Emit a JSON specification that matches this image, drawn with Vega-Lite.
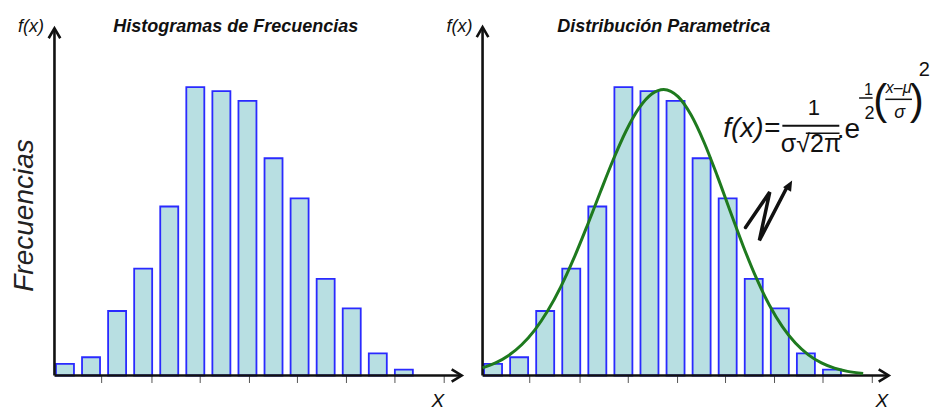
{
  "$schema": "https://vega.github.io/schema/vega-lite/v6.json",
  "width": 938,
  "height": 411,
  "padding": 0,
  "autosize": {"type": "none"},
  "background": "white",
  "config": {"view": {"stroke": null}},
  "datasets": {
    "hist": [
      {"bin": 0, "frecuencia": 2.0},
      {"bin": 1, "frecuencia": 3.16},
      {"bin": 2, "frecuencia": 11.18},
      {"bin": 3, "frecuencia": 18.52},
      {"bin": 4, "frecuencia": 29.3},
      {"bin": 5, "frecuencia": 50.0},
      {"bin": 6, "frecuencia": 49.3},
      {"bin": 7, "frecuencia": 47.6},
      {"bin": 8, "frecuencia": 37.66},
      {"bin": 9, "frecuencia": 30.7},
      {"bin": 10, "frecuencia": 16.75},
      {"bin": 11, "frecuencia": 11.65},
      {"bin": 12, "frecuencia": 3.85},
      {"bin": 13, "frecuencia": 1.01}
    ],
    "curve": [
      {"x": 0, "f": 1.32}, {"x": 0.5, "f": 2.18}, {"x": 1, "f": 3.47}, {"x": 1.5, "f": 5.33},
      {"x": 2, "f": 7.87}, {"x": 2.5, "f": 11.21}, {"x": 3, "f": 15.37}, {"x": 3.5, "f": 20.29},
      {"x": 4, "f": 25.8}, {"x": 4.5, "f": 31.6}, {"x": 5, "f": 37.28}, {"x": 5.5, "f": 42.35},
      {"x": 6, "f": 46.35}, {"x": 6.5, "f": 48.85}, {"x": 6.95, "f": 49.6}, {"x": 7.5, "f": 48.34},
      {"x": 8, "f": 45.15}, {"x": 8.5, "f": 40.4}, {"x": 9, "f": 34.65}, {"x": 9.5, "f": 28.47},
      {"x": 10, "f": 22.42}, {"x": 10.5, "f": 16.91}, {"x": 11, "f": 12.23}, {"x": 11.5, "f": 8.47},
      {"x": 12, "f": 5.62}, {"x": 12.5, "f": 3.58}, {"x": 13, "f": 2.18}, {"x": 13.5, "f": 1.27},
      {"x": 14, "f": 0.71}, {"x": 14.6, "f": 0.34}
    ],
    "ticks": [{"t": 1.81}, {"t": 3.74}, {"t": 5.59}, {"t": 7.48}, {"t": 9.32}, {"t": 11.2}, {"t": 13.06}, {"t": 14.95}],
    "zigzag": [
      {"step": 1, "x": 10.087, "f": 25.66},
      {"step": 2, "x": 11.017, "f": 31.81},
      {"step": 3, "x": 10.619, "f": 23.41},
      {"step": 4, "x": 11.662, "f": 32.51}
    ]
  },
  "layer": [
    {
      "layer": [
        {
          "data": {"name": "hist"},
          "mark": {"type": "bar", "width": 18, "xOffset": 10.5, "fill": "#b8dfe2", "stroke": "#2a2aff", "strokeWidth": 1.8},
          "encoding": {
            "x": {"field": "bin", "type": "quantitative", "scale": {"domain": [-1.8975, 33.7], "nice": false, "zero": false}, "axis": null},
            "y": {"field": "frecuencia", "type": "quantitative", "stack": null, "scale": {"domain": [-6.155, 65.1], "nice": false, "zero": false}, "axis": null},
            "y2": {"datum": 0}
          }
        },
        {
          "data": {"name": "ticks"},
          "mark": {"type": "rule", "color": "#555", "strokeWidth": 1},
          "encoding": {
            "x": {"field": "t", "type": "quantitative", "scale": {"domain": [-1.8975, 33.7], "nice": false, "zero": false}, "axis": null},
            "y": {"datum": 0, "scale": {"domain": [-6.155, 65.1], "nice": false, "zero": false}, "axis": null},
            "y2": {"datum": -1.3}
          }
        },
        {
          "data": {"values": [{}]},
          "mark": {"type": "rule", "color": "#111", "strokeWidth": 2.6},
          "encoding": {
            "x": {"datum": 0, "scale": {"domain": [-1.8975, 33.7], "nice": false, "zero": false}, "axis": null},
            "x2": {"datum": 15.6},
            "y": {"datum": 0, "scale": {"domain": [-6.155, 65.1], "nice": false, "zero": false}, "axis": null}
          }
        },
        {
          "data": {"values": [{}]},
          "mark": {"type": "rule", "color": "#111", "strokeWidth": 2.6},
          "encoding": {
            "x": {"datum": 0, "scale": {"domain": [-1.8975, 33.7], "nice": false, "zero": false}, "axis": null},
            "y": {"datum": 0, "scale": {"domain": [-6.155, 65.1], "nice": false, "zero": false}, "axis": null},
            "y2": {"datum": 60.2}
          }
        },
        {
          "data": {"values": [{}]},
          "mark": {"type": "point", "shape": "M -1 -0.62 L 0 0 L -1 0.62", "size": 400, "filled": false, "stroke": "#111", "strokeWidth": 2.6, "opacity": 1},
          "encoding": {
            "x": {"datum": 15.62, "scale": {"domain": [-1.8975, 33.7], "nice": false, "zero": false}, "axis": null},
            "y": {"datum": 0, "scale": {"domain": [-6.155, 65.1], "nice": false, "zero": false}, "axis": null}
          }
        },
        {
          "data": {"values": [{}]},
          "mark": {"type": "point", "shape": "M -0.58 1 L 0 0 L 0.58 1", "size": 400, "filled": false, "stroke": "#111", "strokeWidth": 2.6, "opacity": 1},
          "encoding": {
            "x": {"datum": 0, "scale": {"domain": [-1.8975, 33.7], "nice": false, "zero": false}, "axis": null},
            "y": {"datum": 60.2, "scale": {"domain": [-6.155, 65.1], "nice": false, "zero": false}, "axis": null}
          }
        },
        {
          "data": {"values": [{"label": "Histogramas de Frecuencias"}]},
          "mark": {"type": "text", "font": "Liberation Sans, sans-serif", "fontSize": 18, "fontStyle": "italic", "fontWeight": "bold", "align": "center", "baseline": "alphabetic", "color": "#111"},
          "encoding": {
            "x": {"datum": 6.956, "scale": {"domain": [-1.8975, 33.7], "nice": false, "zero": false}, "axis": null},
            "y": {"datum": 59.61, "scale": {"domain": [-6.155, 65.1], "nice": false, "zero": false}, "axis": null},
            "text": {"field": "label"}
          }
        },
        {
          "data": {"values": [{"label": "f(x)"}]},
          "mark": {"type": "text", "font": "Liberation Sans, sans-serif", "fontSize": 18, "fontStyle": "italic", "align": "center", "baseline": "alphabetic", "color": "#111"},
          "encoding": {
            "x": {"datum": -0.9, "scale": {"domain": [-1.8975, 33.7], "nice": false, "zero": false}, "axis": null},
            "y": {"datum": 59.61, "scale": {"domain": [-6.155, 65.1], "nice": false, "zero": false}, "axis": null},
            "text": {"field": "label"}
          }
        },
        {
          "data": {"values": [{"label": "Frecuencias"}]},
          "mark": {"type": "text", "font": "Liberation Sans, sans-serif", "fontSize": 28, "fontStyle": "italic", "angle": 270, "align": "center", "baseline": "alphabetic", "color": "#222"},
          "encoding": {
            "x": {"datum": -0.84, "scale": {"domain": [-1.8975, 33.7], "nice": false, "zero": false}, "axis": null},
            "y": {"datum": 27.74, "scale": {"domain": [-6.155, 65.1], "nice": false, "zero": false}, "axis": null},
            "text": {"field": "label"}
          }
        },
        {
          "data": {"values": [{"label": "X"}]},
          "mark": {"type": "text", "font": "Liberation Sans, sans-serif", "fontSize": 19, "fontStyle": "italic", "align": "center", "baseline": "alphabetic", "color": "#111"},
          "encoding": {
            "x": {"datum": 14.706, "scale": {"domain": [-1.8975, 33.7], "nice": false, "zero": false}, "axis": null},
            "y": {"datum": -5.41, "scale": {"domain": [-6.155, 65.1], "nice": false, "zero": false}, "axis": null},
            "text": {"field": "label"}
          }
        }
      ]
    },
    {
      "layer": [
        {
          "data": {"name": "hist"},
          "mark": {"type": "bar", "width": 18, "xOffset": 10.5, "fill": "#b8dfe2", "stroke": "#2a2aff", "strokeWidth": 1.8},
          "encoding": {
            "x": {"field": "bin", "type": "quantitative", "scale": {"domain": [-18.319, 17.279], "nice": false, "zero": false}, "axis": null},
            "y": {"field": "frecuencia", "type": "quantitative", "stack": null, "scale": {"domain": [-6.155, 65.1], "nice": false, "zero": false}, "axis": null},
            "y2": {"datum": 0}
          }
        },
        {
          "data": {"name": "ticks"},
          "mark": {"type": "rule", "color": "#555", "strokeWidth": 1},
          "encoding": {
            "x": {"field": "t", "type": "quantitative", "scale": {"domain": [-18.319, 17.279], "nice": false, "zero": false}, "axis": null},
            "y": {"datum": 0, "scale": {"domain": [-6.155, 65.1], "nice": false, "zero": false}, "axis": null},
            "y2": {"datum": -1.3}
          }
        },
        {
          "data": {"values": [{}]},
          "mark": {"type": "rule", "color": "#111", "strokeWidth": 2.6},
          "encoding": {
            "x": {"datum": 0, "scale": {"domain": [-18.319, 17.279], "nice": false, "zero": false}, "axis": null},
            "x2": {"datum": 15.58},
            "y": {"datum": 0, "scale": {"domain": [-6.155, 65.1], "nice": false, "zero": false}, "axis": null}
          }
        },
        {
          "data": {"values": [{}]},
          "mark": {"type": "rule", "color": "#111", "strokeWidth": 2.6},
          "encoding": {
            "x": {"datum": 0, "scale": {"domain": [-18.319, 17.279], "nice": false, "zero": false}, "axis": null},
            "y": {"datum": 0, "scale": {"domain": [-6.155, 65.1], "nice": false, "zero": false}, "axis": null},
            "y2": {"datum": 60.4}
          }
        },
        {
          "data": {"values": [{}]},
          "mark": {"type": "point", "shape": "M -1 -0.62 L 0 0 L -1 0.62", "size": 400, "filled": false, "stroke": "#111", "strokeWidth": 2.6, "opacity": 1},
          "encoding": {
            "x": {"datum": 15.58, "scale": {"domain": [-18.319, 17.279], "nice": false, "zero": false}, "axis": null},
            "y": {"datum": 0, "scale": {"domain": [-6.155, 65.1], "nice": false, "zero": false}, "axis": null}
          }
        },
        {
          "data": {"values": [{}]},
          "mark": {"type": "point", "shape": "M -0.58 1 L 0 0 L 0.58 1", "size": 400, "filled": false, "stroke": "#111", "strokeWidth": 2.6, "opacity": 1},
          "encoding": {
            "x": {"datum": 0, "scale": {"domain": [-18.319, 17.279], "nice": false, "zero": false}, "axis": null},
            "y": {"datum": 60.4, "scale": {"domain": [-6.155, 65.1], "nice": false, "zero": false}, "axis": null}
          }
        },
        {
          "data": {"name": "curve"},
          "mark": {"type": "line", "color": "#1e7a1e", "strokeWidth": 3, "interpolate": "monotone"},
          "encoding": {
            "x": {"field": "x", "type": "quantitative", "scale": {"domain": [-18.319, 17.279], "nice": false, "zero": false}, "axis": null},
            "y": {"field": "f", "type": "quantitative", "scale": {"domain": [-6.155, 65.1], "nice": false, "zero": false}, "axis": null}
          }
        },
        {
          "data": {"name": "zigzag"},
          "mark": {"type": "line", "color": "#111", "strokeWidth": 3.5, "strokeCap": "round", "strokeJoin": "miter"},
          "encoding": {
            "x": {"field": "x", "type": "quantitative", "scale": {"domain": [-18.319, 17.279], "nice": false, "zero": false}, "axis": null},
            "y": {"field": "f", "type": "quantitative", "scale": {"domain": [-6.155, 65.1], "nice": false, "zero": false}, "axis": null},
            "order": {"field": "step", "type": "quantitative"}
          }
        },
        {
          "data": {"values": [{}]},
          "mark": {"type": "point", "shape": "M 0 -1 L 0.75 0.7 L -0.75 0.7 Z", "size": 150, "filled": true, "fill": "#111", "strokeWidth": 0, "opacity": 1, "angle": 29},
          "encoding": {
            "x": {"datum": 11.761, "scale": {"domain": [-18.319, 17.279], "nice": false, "zero": false}, "axis": null},
            "y": {"datum": 32.89, "scale": {"domain": [-6.155, 65.1], "nice": false, "zero": false}, "axis": null}
          }
        },
        {
          "data": {"values": [{"label": "Distribución Parametrica"}]},
          "mark": {"type": "text", "font": "Liberation Sans, sans-serif", "fontSize": 18, "fontStyle": "italic", "fontWeight": "bold", "align": "center", "baseline": "alphabetic", "color": "#111"},
          "encoding": {
            "x": {"datum": 6.949, "scale": {"domain": [-18.319, 17.279], "nice": false, "zero": false}, "axis": null},
            "y": {"datum": 59.61, "scale": {"domain": [-6.155, 65.1], "nice": false, "zero": false}, "axis": null},
            "text": {"field": "label"}
          }
        },
        {
          "data": {"values": [{"label": "f(x)"}]},
          "mark": {"type": "text", "font": "Liberation Sans, sans-serif", "fontSize": 18, "fontStyle": "italic", "align": "center", "baseline": "alphabetic", "color": "#111"},
          "encoding": {
            "x": {"datum": -0.88, "scale": {"domain": [-18.319, 17.279], "nice": false, "zero": false}, "axis": null},
            "y": {"datum": 59.61, "scale": {"domain": [-6.155, 65.1], "nice": false, "zero": false}, "axis": null},
            "text": {"field": "label"}
          }
        },
        {
          "data": {"values": [{"label": "X"}]},
          "mark": {"type": "text", "font": "Liberation Sans, sans-serif", "fontSize": 19, "fontStyle": "italic", "align": "center", "baseline": "alphabetic", "color": "#111"},
          "encoding": {
            "x": {"datum": 15.317, "scale": {"domain": [-18.319, 17.279], "nice": false, "zero": false}, "axis": null},
            "y": {"datum": -5.41, "scale": {"domain": [-6.155, 65.1], "nice": false, "zero": false}, "axis": null},
            "text": {"field": "label"}
          }
        },
        {
          "data": {"values": [{"label": "f(x)="}]},
          "mark": {"type": "text", "font": "Liberation Sans, sans-serif", "fontSize": 28, "fontStyle": "italic", "align": "left", "baseline": "alphabetic", "color": "#111"},
          "encoding": {
            "x": {"datum": 9.233, "scale": {"domain": [-18.319, 17.279], "nice": false, "zero": false}, "axis": null},
            "y": {"datum": 41.3, "scale": {"domain": [-6.155, 65.1], "nice": false, "zero": false}, "axis": null},
            "text": {"field": "label"}
          }
        },
        {
          "data": {"values": [{"label": "1"}]},
          "mark": {"type": "text", "font": "Liberation Sans, sans-serif", "fontSize": 22, "align": "center", "baseline": "alphabetic", "color": "#111"},
          "encoding": {
            "x": {"datum": 12.706, "scale": {"domain": [-18.319, 17.279], "nice": false, "zero": false}, "axis": null},
            "y": {"datum": 45.16, "scale": {"domain": [-6.155, 65.1], "nice": false, "zero": false}, "axis": null},
            "text": {"field": "label"}
          }
        },
        {
          "data": {"values": [{}]},
          "mark": {"type": "rule", "color": "#111", "strokeWidth": 2},
          "encoding": {
            "x": {"datum": 11.5, "scale": {"domain": [-18.319, 17.279], "nice": false, "zero": false}, "axis": null},
            "x2": {"datum": 13.685},
            "y": {"datum": 43.31, "scale": {"domain": [-6.155, 65.1], "nice": false, "zero": false}, "axis": null}
          }
        },
        {
          "data": {"values": [{"label": "σ√2π"}]},
          "mark": {"type": "text", "font": "Liberation Sans, sans-serif", "fontSize": 25, "align": "center", "baseline": "alphabetic", "color": "#111"},
          "encoding": {
            "x": {"datum": 12.6, "scale": {"domain": [-18.319, 17.279], "nice": false, "zero": false}, "axis": null},
            "y": {"datum": 38.8, "scale": {"domain": [-6.155, 65.1], "nice": false, "zero": false}, "axis": null},
            "text": {"field": "label"}
          }
        },
        {
          "data": {"values": [{}]},
          "mark": {"type": "rule", "color": "#111", "strokeWidth": 1.5},
          "encoding": {
            "x": {"datum": 12.4, "scale": {"domain": [-18.319, 17.279], "nice": false, "zero": false}, "axis": null},
            "x2": {"datum": 13.693},
            "y": {"datum": 42.0, "scale": {"domain": [-6.155, 65.1], "nice": false, "zero": false}, "axis": null}
          }
        },
        {
          "data": {"values": [{"label": ".e"}]},
          "mark": {"type": "text", "font": "Liberation Sans, sans-serif", "fontSize": 28, "align": "center", "baseline": "alphabetic", "color": "#111"},
          "encoding": {
            "x": {"datum": 14.034, "scale": {"domain": [-18.319, 17.279], "nice": false, "zero": false}, "axis": null},
            "y": {"datum": 41.12, "scale": {"domain": [-6.155, 65.1], "nice": false, "zero": false}, "axis": null},
            "text": {"field": "label"}
          }
        },
        {
          "data": {"values": [{}]},
          "mark": {"type": "rule", "color": "#111", "strokeWidth": 1.5},
          "encoding": {
            "x": {"datum": 14.444, "scale": {"domain": [-18.319, 17.279], "nice": false, "zero": false}, "axis": null},
            "x2": {"datum": 14.964},
            "y": {"datum": 48.11, "scale": {"domain": [-6.155, 65.1], "nice": false, "zero": false}, "axis": null}
          }
        },
        {
          "data": {"values": [{"label": "1"}]},
          "mark": {"type": "text", "font": "Liberation Sans, sans-serif", "fontSize": 16, "align": "center", "baseline": "alphabetic", "color": "#111"},
          "encoding": {
            "x": {"datum": 14.8, "scale": {"domain": [-18.319, 17.279], "nice": false, "zero": false}, "axis": null},
            "y": {"datum": 48.6, "scale": {"domain": [-6.155, 65.1], "nice": false, "zero": false}, "axis": null},
            "text": {"field": "label"}
          }
        },
        {
          "data": {"values": [{"label": "2"}]},
          "mark": {"type": "text", "font": "Liberation Sans, sans-serif", "fontSize": 18, "align": "center", "baseline": "alphabetic", "color": "#111"},
          "encoding": {
            "x": {"datum": 14.84, "scale": {"domain": [-18.319, 17.279], "nice": false, "zero": false}, "axis": null},
            "y": {"datum": 44.4, "scale": {"domain": [-6.155, 65.1], "nice": false, "zero": false}, "axis": null},
            "text": {"field": "label"}
          }
        },
        {
          "data": {"values": [{"label": "("}]},
          "mark": {"type": "text", "font": "Liberation Sans, sans-serif", "fontSize": 42, "align": "center", "baseline": "alphabetic", "color": "#111"},
          "encoding": {
            "x": {"datum": 15.26, "scale": {"domain": [-18.319, 17.279], "nice": false, "zero": false}, "axis": null},
            "y": {"datum": 45.4, "scale": {"domain": [-6.155, 65.1], "nice": false, "zero": false}, "axis": null},
            "text": {"field": "label"}
          }
        },
        {
          "data": {"values": [{"label": "x–μ"}]},
          "mark": {"type": "text", "font": "Liberation Sans, sans-serif", "fontSize": 16, "fontStyle": "italic", "align": "center", "baseline": "alphabetic", "color": "#111"},
          "encoding": {
            "x": {"datum": 15.962, "scale": {"domain": [-18.319, 17.279], "nice": false, "zero": false}, "axis": null},
            "y": {"datum": 48.93, "scale": {"domain": [-6.155, 65.1], "nice": false, "zero": false}, "axis": null},
            "text": {"field": "label"}
          }
        },
        {
          "data": {"values": [{}]},
          "mark": {"type": "rule", "color": "#111", "strokeWidth": 1.5},
          "encoding": {
            "x": {"datum": 15.45, "scale": {"domain": [-18.319, 17.279], "nice": false, "zero": false}, "axis": null},
            "x2": {"datum": 16.471},
            "y": {"datum": 47.88, "scale": {"domain": [-6.155, 65.1], "nice": false, "zero": false}, "axis": null}
          }
        },
        {
          "data": {"values": [{"label": "σ"}]},
          "mark": {"type": "text", "font": "Liberation Sans, sans-serif", "fontSize": 18, "fontStyle": "italic", "align": "center", "baseline": "alphabetic", "color": "#111"},
          "encoding": {
            "x": {"datum": 16.0, "scale": {"domain": [-18.319, 17.279], "nice": false, "zero": false}, "axis": null},
            "y": {"datum": 44.59, "scale": {"domain": [-6.155, 65.1], "nice": false, "zero": false}, "axis": null},
            "text": {"field": "label"}
          }
        },
        {
          "data": {"values": [{"label": ")"}]},
          "mark": {"type": "text", "font": "Liberation Sans, sans-serif", "fontSize": 42, "align": "center", "baseline": "alphabetic", "color": "#111"},
          "encoding": {
            "x": {"datum": 16.66, "scale": {"domain": [-18.319, 17.279], "nice": false, "zero": false}, "axis": null},
            "y": {"datum": 45.4, "scale": {"domain": [-6.155, 65.1], "nice": false, "zero": false}, "axis": null},
            "text": {"field": "label"}
          }
        },
        {
          "data": {"values": [{"label": "2"}]},
          "mark": {"type": "text", "font": "Liberation Sans, sans-serif", "fontSize": 20, "align": "center", "baseline": "alphabetic", "color": "#111"},
          "encoding": {
            "x": {"datum": 16.95, "scale": {"domain": [-18.319, 17.279], "nice": false, "zero": false}, "axis": null},
            "y": {"datum": 51.9, "scale": {"domain": [-6.155, 65.1], "nice": false, "zero": false}, "axis": null},
            "text": {"field": "label"}
          }
        }
      ]
    }
  ],
  "resolve": {"scale": {"x": "independent"}}
}
